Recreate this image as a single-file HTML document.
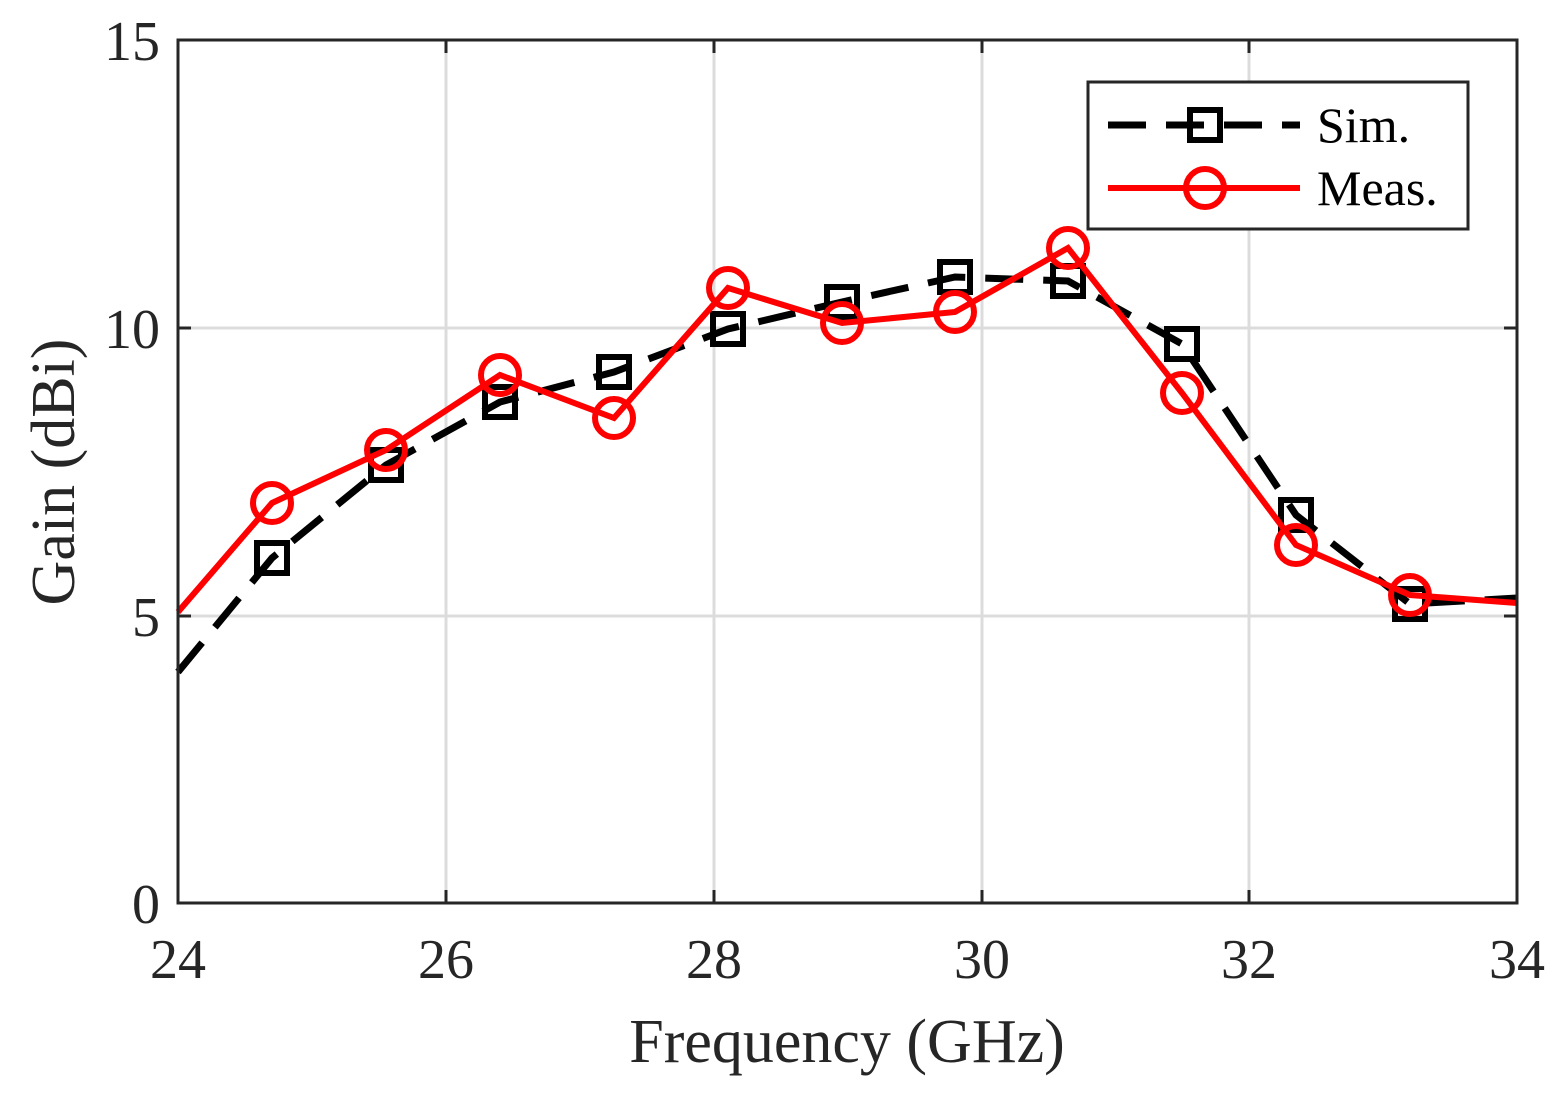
<!DOCTYPE html>
<html><head><style>body{margin:0;background:#fff}</style></head><body>
<svg width="1568" height="1089" xmlns="http://www.w3.org/2000/svg" font-family="Liberation Serif, serif" fill="#262626">
<rect width="1568" height="1089" fill="#fff"/>
<g stroke="#dcdcdc" stroke-width="3">
<line x1="446" y1="40" x2="446" y2="903"/><line x1="714" y1="40" x2="714" y2="903"/><line x1="982" y1="40" x2="982" y2="903"/><line x1="1249" y1="40" x2="1249" y2="903"/>
<line x1="178" y1="328" x2="1517" y2="328"/><line x1="178" y1="616" x2="1517" y2="616"/>
</g>
<g stroke="#262626" stroke-width="3">
<line x1="446" y1="903" x2="446" y2="890"/><line x1="714" y1="903" x2="714" y2="890"/><line x1="982" y1="903" x2="982" y2="890"/><line x1="1249" y1="903" x2="1249" y2="890"/>
<line x1="446" y1="40" x2="446" y2="53"/><line x1="714" y1="40" x2="714" y2="53"/><line x1="982" y1="40" x2="982" y2="53"/><line x1="1249" y1="40" x2="1249" y2="53"/>
<line x1="178" y1="328" x2="191" y2="328"/><line x1="178" y1="616" x2="191" y2="616"/>
<line x1="1517" y1="328" x2="1504" y2="328"/><line x1="1517" y1="616" x2="1504" y2="616"/>
</g>
<polyline fill="none" stroke="#000" stroke-width="7" stroke-dasharray="38,20" points="178,672 272,558 386,465 500,402 614,372 728,329 842,302 955,277 1068,281 1182,344 1296,515 1410,604 1517,598"/>
<g fill="none" stroke="#000" stroke-width="6">
<rect x="257" y="543" width="30" height="30"/><rect x="371" y="450" width="30" height="30"/><rect x="485" y="387" width="30" height="30"/><rect x="599" y="357" width="30" height="30"/><rect x="713" y="314" width="30" height="30"/><rect x="827" y="287" width="30" height="30"/><rect x="940" y="262" width="30" height="30"/><rect x="1053" y="266" width="30" height="30"/><rect x="1167" y="329" width="30" height="30"/><rect x="1281" y="500" width="30" height="30"/><rect x="1395" y="589" width="30" height="30"/>
</g>
<polyline fill="none" stroke="#f00" stroke-width="6" points="178,612 272,503 386,450 500,375 614,418 728,288 842,323 955,312 1068,248 1182,393 1296,545 1410,595 1517,603"/>
<g fill="none" stroke="#f00" stroke-width="6">
<circle cx="272" cy="503" r="19"/><circle cx="386" cy="450" r="19"/><circle cx="500" cy="375" r="19"/><circle cx="614" cy="418" r="19"/><circle cx="728" cy="288" r="19"/><circle cx="842" cy="323" r="19"/><circle cx="955" cy="312" r="19"/><circle cx="1068" cy="248" r="19"/><circle cx="1182" cy="393" r="19"/><circle cx="1296" cy="545" r="19"/><circle cx="1410" cy="595" r="19"/>
</g>
<rect x="178" y="40" width="1339" height="863" fill="none" stroke="#262626" stroke-width="3"/>
<rect x="1088" y="82" width="380" height="147" fill="#fff" stroke="#262626" stroke-width="3"/>
<line x1="1108" y1="125" x2="1300" y2="125" stroke="#000" stroke-width="7" stroke-dasharray="38,20"/>
<rect x="1190" y="110" width="30" height="30" fill="none" stroke="#000" stroke-width="6"/>
<line x1="1108" y1="188" x2="1300" y2="188" stroke="#f00" stroke-width="6"/>
<circle cx="1205" cy="188" r="19" fill="none" stroke="#f00" stroke-width="6"/>
<g font-size="50" fill="#000"><text x="1317" y="142">Sim.</text><text x="1317" y="205">Meas.</text></g>
<g font-size="56" text-anchor="middle">
<text x="178" y="978">24</text><text x="446" y="978">26</text><text x="714" y="978">28</text><text x="982" y="978">30</text><text x="1249" y="978">32</text><text x="1517" y="978">34</text>
</g>
<g font-size="56" text-anchor="end">
<text x="160" y="60">15</text><text x="160" y="348">10</text><text x="160" y="636">5</text><text x="160" y="923">0</text>
</g>
<text x="847" y="1062" font-size="62" text-anchor="middle">Frequency (GHz)</text>
<text transform="translate(74,472) rotate(-90)" font-size="62" text-anchor="middle">Gain (dBi)</text>
</svg>
</body></html>
